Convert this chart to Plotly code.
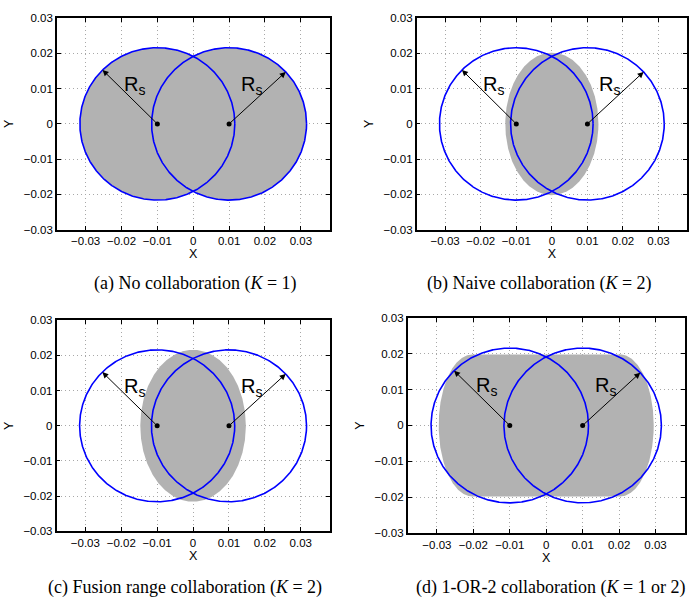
import numpy as np
import plotly.graph_objects as go

# ---------------- data ----------------
sensor_x = [-0.01, 0.01]
sensor_y = [0.0, 0.0]
sensing_radius = 0.0216

tick_vals_x = [-0.03, -0.02, -0.01, 0.0, 0.01, 0.02, 0.03]
tick_text_x = ["\u22120.03", "\u22120.02", "\u22120.01", "0", "0.01", "0.02", "0.03"]
tick_vals_y = [-0.03, -0.02, -0.01, 0.0, 0.01, 0.02, 0.03]
tick_text_y = ["\u22120.03", "\u22120.02", "\u22120.01", "0", "0.01", "0.02", "0.03"]

panel_captions = [
    "(a) No collaboration (<i>K</i> = 1)",
    "(b) Naive collaboration (<i>K</i> = 2)",
    "(c) Fusion range collaboration (<i>K</i> = 2)",
    "(d) 1-OR-2 collaboration (<i>K</i> = 1 or 2)",
]
# detection region (half width, half height, flat top half-length)
region_half_width = [None, 0.0131, 0.0147, 0.0295]
region_half_height = [None, 0.0202, 0.0216, 0.0198]
region_flat_half = [None, 0.0, 0.0, 0.0203]
arrow_angles_deg = [135, 43]

# ---------------- layout geometry ----------------
W, H = 689, 601
panels = [  # left, right, top, bottom in px
    (57.0, 330.0, 12.3, 228.3),
    (417.3, 688.0, 12.3, 228.3),
    (56.7, 330.0, 320.7, 536.0),
    (408.3, 685.7, 318.3, 537.7),
]
caption_pos = [(196, 283), (540, 283), (185, 593), (552, 593)]

GRAY = "rgb(178,178,178)"
fig = go.Figure()
t = np.linspace(0, 2 * np.pi, 721)

for i in range(4):
    xa = "x" if i == 0 else f"x{i+1}"
    ya = "y" if i == 0 else f"y{i+1}"
    # gray detection region
    if i == 0:
        for cx, cy in zip(sensor_x, sensor_y):
            fig.add_trace(go.Scatter(
                x=cx + sensing_radius * np.cos(t), y=cy + sensing_radius * np.sin(t),
                mode="lines", fill="toself", fillcolor=GRAY, line=dict(width=0),
                xaxis=xa, yaxis=ya, hoverinfo="skip", showlegend=False))
    else:
        a = region_half_width[i]
        b = region_half_height[i]
        f = region_flat_half[i]
        c = np.cos(t)
        gx = np.sign(c) * f + (a - f) * c
        gy = b * np.sin(t)
        fig.add_trace(go.Scatter(
            x=gx, y=gy, mode="lines", fill="toself", fillcolor=GRAY, line=dict(width=0),
            xaxis=xa, yaxis=ya, hoverinfo="skip", showlegend=False))
    # blue circles
    for cx, cy in zip(sensor_x, sensor_y):
        fig.add_trace(go.Scatter(
            x=cx + sensing_radius * np.cos(t), y=cy + sensing_radius * np.sin(t),
            mode="lines", line=dict(color="#0000ff", width=1.6),
            xaxis=xa, yaxis=ya, hoverinfo="skip", showlegend=False))
    # sensor dots
    fig.add_trace(go.Scatter(
        x=sensor_x, y=sensor_y, mode="markers", marker=dict(color="black", size=5),
        xaxis=xa, yaxis=ya, hoverinfo="skip", showlegend=False))
    # arrows and R_s labels
    for k, (cx, cy) in enumerate(zip(sensor_x, sensor_y)):
        ang = np.deg2rad(arrow_angles_deg[k])
        tx = cx + sensing_radius * np.cos(ang)
        ty = cy + sensing_radius * np.sin(ang)
        fig.add_annotation(x=tx, y=ty, ax=cx, ay=cy, xref=xa, yref=ya, axref=xa, ayref=ya,
                           text="", showarrow=True, arrowhead=2, arrowsize=1.2,
                           arrowwidth=1, arrowcolor="black")
        lx = -0.0163 if k == 0 else 0.0162
        fig.add_annotation(x=lx, y=0.0110, xref=xa, yref=ya, text="R<sub>s</sub>",
                           showarrow=False, font=dict(family="Liberation Sans", size=20, color="black"))
    # axes
    l, r, tp, bt = panels[i]
    axis_common = dict(showline=True, linecolor="black", linewidth=1.6, mirror="ticks",
                       ticks="inside", ticklen=4, tickcolor="black", showgrid=True,
                       gridcolor="#a8a8a8", griddash="1px,3px", gridwidth=1, zeroline=False,
                       tickfont=dict(family="Liberation Sans", size=11.5, color="black"))
    fig.layout[("xaxis" if i == 0 else f"xaxis{i+1}")] = dict(
        domain=[l / W, r / W], anchor=ya, range=[-0.038, 0.038],
        tickvals=tick_vals_x, ticktext=tick_text_x,
        title=dict(text="X", standoff=1, font=dict(family="Liberation Sans", size=12.5, color="black")),
        **axis_common)
    fig.layout[("yaxis" if i == 0 else f"yaxis{i+1}")] = dict(
        domain=[1 - bt / H, 1 - tp / H], anchor=xa, range=[-0.03, 0.03],
        tickvals=tick_vals_y, ticktext=tick_text_y,
        title=dict(text="Y", standoff=7, font=dict(family="Liberation Sans", size=12.5, color="black")),
        **axis_common)
    cxp, cyp = caption_pos[i]
    fig.add_annotation(x=cxp / W, y=1 - cyp / H, xref="paper", yref="paper",
                       text=panel_captions[i], showarrow=False, xanchor="center", yanchor="middle",
                       font=dict(family="Liberation Serif", size=18, color="black"))

fig.update_layout(width=W, height=H, autosize=False, margin=dict(l=0, r=0, t=0, b=0),
                  paper_bgcolor="white", plot_bgcolor="white", showlegend=False)
fig.write_html("out.html", config={"displayModeBar": False},
               post_script="document.body.style.margin='0px';")
